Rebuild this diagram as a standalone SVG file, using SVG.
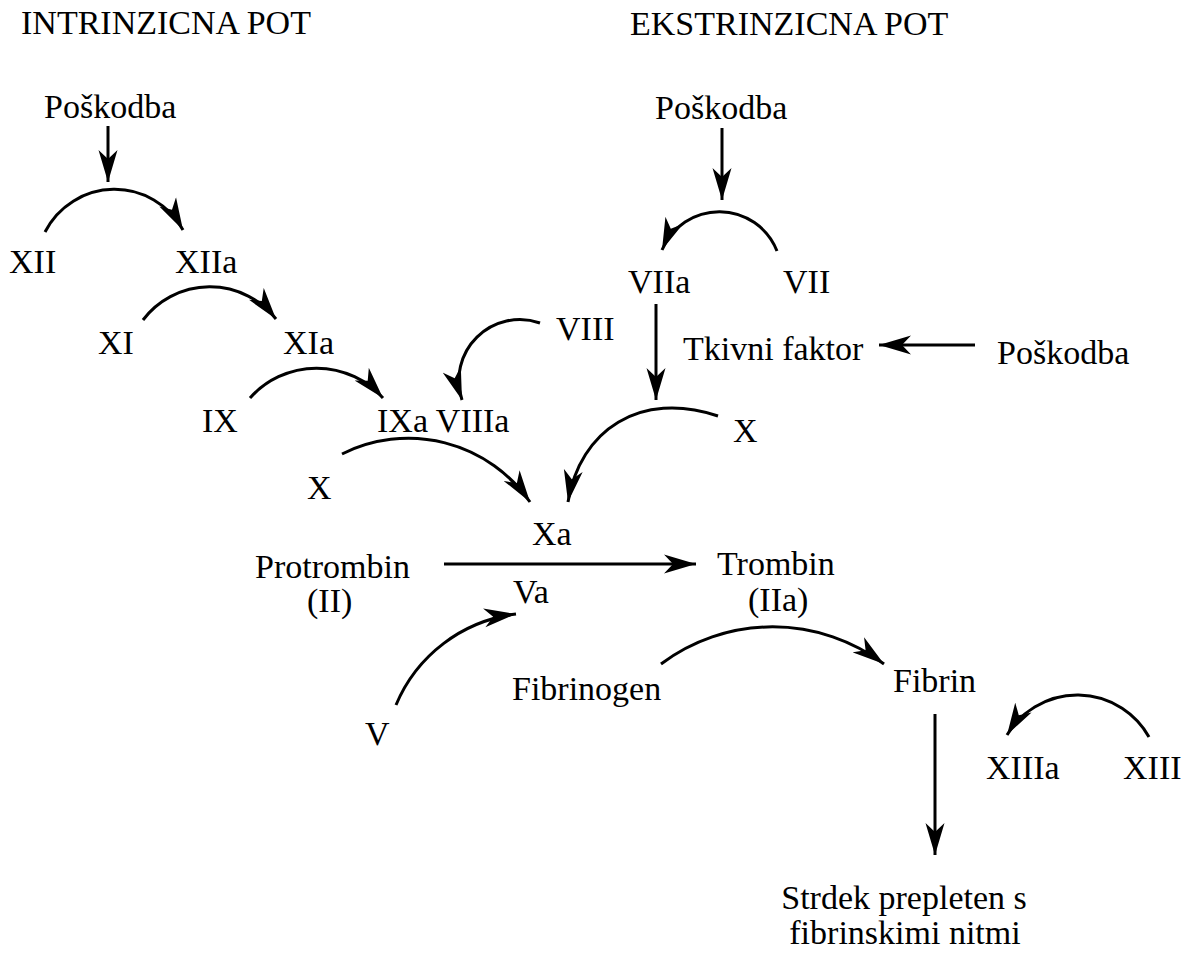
<svg xmlns="http://www.w3.org/2000/svg" width="1194" height="954" viewBox="0 0 1194 954">
<style>
text{font-family:"Liberation Serif","Times New Roman",serif;font-size:34px;fill:#000}
.c{fill:none;stroke:#000;stroke-width:3;marker-end:url(#ah)}
</style>
<defs>
<marker id="ah" markerUnits="userSpaceOnUse" markerWidth="34" markerHeight="20" viewBox="0 0 34 20" refX="32" refY="10" orient="auto">
<path d="M0,0.5 L32,10 L0,19.5 L9,10 Z" fill="#000"/>
</marker>
</defs>
<rect width="1194" height="954" fill="#fff"/>
<g id="titles">
<text x="21" y="34">INTRINZICNA POT</text>
<text x="630" y="35">EKSTRINZICNA POT</text>
</g>
<g id="n-poskodba1"><text x="44" y="118">Poškodba</text></g>
<g id="n-poskodba2"><text x="655" y="119">Poškodba</text></g>
<g id="n-poskodba3"><text x="997" y="364">Poškodba</text></g>
<g id="n-xii"><text x="9" y="273">XII</text></g>
<g id="n-xiia"><text x="175" y="273">XIIa</text></g>
<g id="n-xi"><text x="98" y="354">XI</text></g>
<g id="n-xia"><text x="283" y="354">XIa</text></g>
<g id="n-ix"><text x="202" y="432">IX</text></g>
<g id="n-ixa"><text x="377" y="432">IXa VIIIa</text></g>
<g id="n-viii"><text x="556" y="340">VIII</text></g>
<g id="n-x1"><text x="307" y="499">X</text></g>
<g id="n-viia"><text x="628" y="293">VIIa</text></g>
<g id="n-vii"><text x="783" y="293">VII</text></g>
<g id="n-tf"><text x="683" y="360">Tkivni faktor</text></g>
<g id="n-x2"><text x="733" y="442">X</text></g>
<g id="n-xa"><text x="532" y="545">Xa</text></g>
<g id="n-protrombin"><text x="255" y="578">Protrombin</text><text x="307" y="612">(II)</text></g>
<g id="n-va"><text x="513" y="603">Va</text></g>
<g id="n-trombin"><text x="717" y="575">Trombin</text><text x="748" y="611">(IIa)</text></g>
<g id="n-v"><text x="365" y="745">V</text></g>
<g id="n-fibrinogen"><text x="512" y="700">Fibrinogen</text></g>
<g id="n-fibrin"><text x="893" y="692">Fibrin</text></g>
<g id="n-xiiia"><text x="986" y="779">XIIIa</text></g>
<g id="n-xiii"><text x="1123" y="779">XIII</text></g>
<g id="n-strdek"><text x="904" y="909" text-anchor="middle">Strdek prepleten s</text><text x="905" y="944" text-anchor="middle">fibrinskimi nitmi</text></g>
<g id="connectors">
<path class="c" d="M108,126 L108,182"/>
<path class="c" d="M45,232 A78,78 0 0 1 183,230"/>
<path class="c" d="M143,320 A84,84 0 0 1 276,319"/>
<path class="c" d="M250,398 A89,89 0 0 1 383,398"/>
<path class="c" d="M540,323 A61,61 0 0 0 462,400"/>
<path class="c" d="M342,454 A148,148 0 0 1 530,502"/>
<path class="c" d="M722,128 L722,200"/>
<path class="c" d="M777,251 A62,62 0 0 0 662,250"/>
<path class="c" d="M656,304 L656,400"/>
<path class="c" d="M975,345 L879,345"/>
<path class="c" d="M718,416 C640,390 580,430 568,502"/>
<path class="c" d="M444,564 L696,564"/>
<path class="c" d="M396,705 A150,150 0 0 1 516,614"/>
<path class="c" d="M661,664 A186,186 0 0 1 884,664"/>
<path class="c" d="M935,714 L935,855"/>
<path class="c" d="M1149,737 A82,82 0 0 0 1007,735"/>
</g>
</svg>
